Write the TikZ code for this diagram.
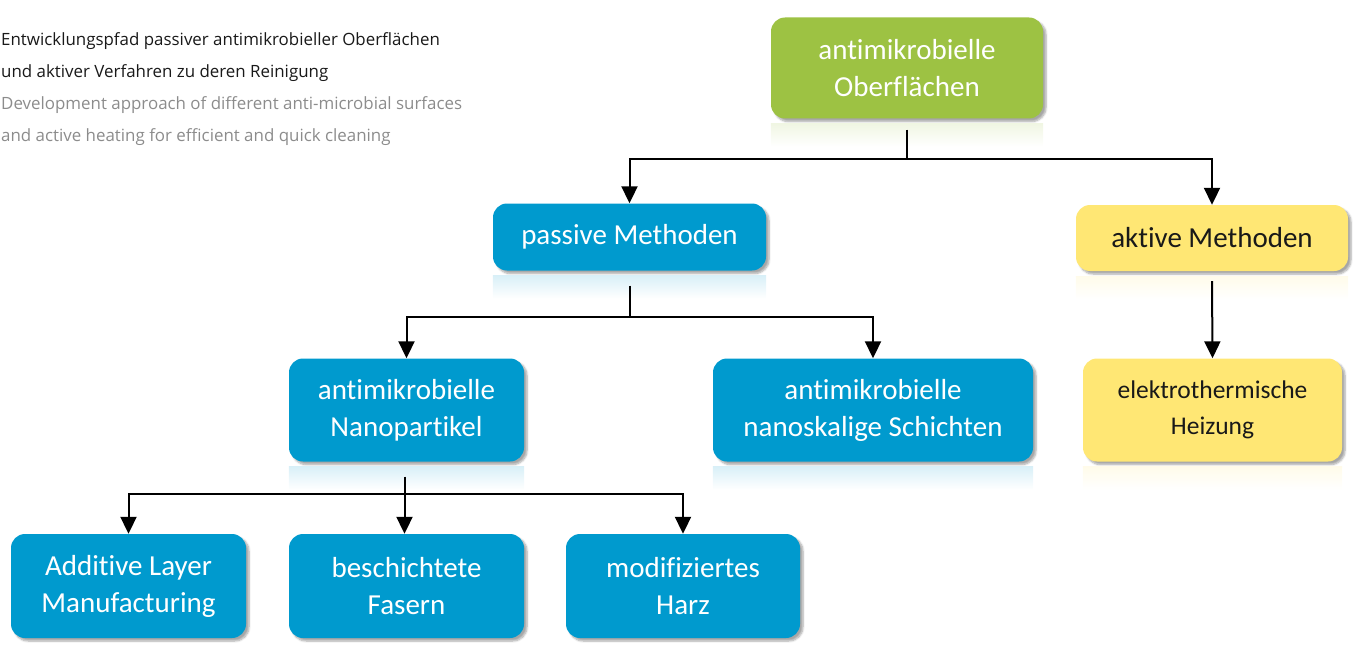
\documentclass[tikz,border=0pt]{standalone}
\usepackage{fontspec}
\setmainfont{Carlito}[Ligatures=NoCommon]
\newfontfamily\capfont{Open Sans}
\usetikzlibrary{arrows.meta,shadows.blur}

\definecolor{agreen}{RGB}{157,194,67}
\definecolor{ablue}{RGB}{0,154,206}
\definecolor{ayellow}{RGB}{255,231,116}
\definecolor{capgray}{RGB}{140,140,140}

\tikzset{
  box/.style={rounded corners=14pt, inner sep=0pt, align=center,
    blur shadow={shadow xshift=3pt, shadow yshift=-3pt, shadow opacity=35, shadow blur steps=6},
    font=\fontsize{29}{37}\selectfont},
  greenbox/.style={box, fill=agreen, text=white},
  bluebox/.style={box, fill=ablue, text=white},
  yellowbox/.style={box, fill=ayellow, text=black!90},
  arr/.style={line width=2pt, -{Triangle[width=16pt,length=17pt]}},
  link/.style={line width=2pt}
}

\begin{document}
\begin{tikzpicture}[x=1pt,y=-1pt]
\useasboundingbox (0,0) rectangle (1354,650);

% caption
\node[anchor=north west, inner sep=0pt, align=left, font=\capfont\fontsize{16.9}{32}\selectfont] (caption) at (1,32)
  {\color{black!90}Entwicklungspfad passiver antimikrobieller Oberflächen\\
   \color{black!90}und aktiver Verfahren zu deren Reinigung\\
   \color{capgray}Development approach of different anti-microbial surfaces\\
   \color{capgray}and active heating for efficient and quick cleaning};

% boxes
\node[greenbox, minimum width=272pt, minimum height=101pt] (top) at (907,68) {antimikrobielle\\Oberflächen};
\node[bluebox, minimum width=273pt, minimum height=67pt] (passive) at (629.5,237) {passive Methoden};
\node[yellowbox, minimum width=272pt, minimum height=66pt] (aktive) at (1212,238) {aktive Methoden};
\node[bluebox, minimum width=235pt, minimum height=103pt] (nano) at (406.5,410) {antimikrobielle\\Nanopartikel};
\node[bluebox, minimum width=320pt, minimum height=103pt] (schichten) at (873,410) {antimikrobielle\\nanoskalige Schichten};
\node[yellowbox, minimum width=259pt, minimum height=103pt, font=\fontsize{25.5}{36}\selectfont] (heizung) at (1212.5,410) {elektrothermische\\Heizung};
\node[bluebox, minimum width=235pt, minimum height=104pt] (alm) at (128.5,586) {Additive Layer\\Manufacturing};
\node[bluebox, minimum width=235pt, minimum height=104pt] (fasern) at (406.5,586) {beschichtete\\Fasern};
\node[bluebox, minimum width=234pt, minimum height=104pt] (harz) at (683,586) {modifiziertes\\Harz};

% faint reflections
\foreach \n/\c in {top/agreen, passive/ablue, aktive/ayellow, nano/ablue, schichten/ablue, heizung/ayellow}
  \shade[top color=\c!15, bottom color=white] ([yshift=-5pt]\n.south west) rectangle ([yshift=-28pt]\n.south east);

% connectors
\draw[link] ([yshift=-11pt]top.south) -- ++(0,29) coordinate (t1);
\draw[arr] (t1) -| (passive.north);
\draw[arr] (t1) -| (aktive.north);
\draw[link] ([yshift=-15pt]passive.south) -- ++(0,31) coordinate (p1);
\draw[arr] (p1) -| (nano.north);
\draw[arr] (p1) -| (schichten.north);
\draw[arr] ([yshift=-10pt]aktive.south) -- (heizung.north);
\draw[link] ([xshift=-2pt,yshift=-15pt]nano.south) -- ++(0,17) coordinate (n1);
\draw[arr] (n1) -| (alm.north);
\draw[arr] (n1) -- ([xshift=-2pt]fasern.north);
\draw[arr] (n1) -| (harz.north);
\end{tikzpicture}
\end{document}
